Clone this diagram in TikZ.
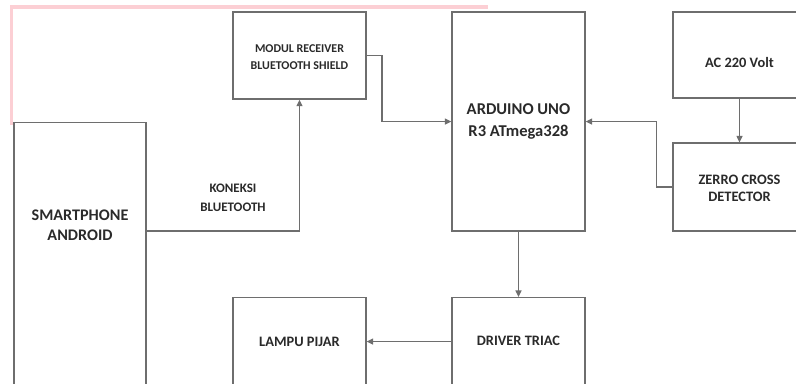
\documentclass[tikz,border=0pt]{standalone}
\usepackage{fontspec}
\setmainfont{Carlito}
\usepackage{xcolor}
\definecolor{boxline}{HTML}{6E6E6E}
\definecolor{boxtext}{HTML}{2A2A2A}
\definecolor{markpink}{HTML}{FCCFD4}
\usepackage{tikz}
\usetikzlibrary{positioning,arrows.meta,calc}
\tikzset{
  blk/.style  ={rectangle, draw=boxline, line width=0.75pt, fill=white,
                minimum width=26.6mm, minimum height=17.4mm, inner sep=0pt},
  txt/.style  ={text=boxtext, align=center, inner sep=1pt, font=\bfseries},
  tsm/.style  ={txt, font=\fontsize{6.8}{9.6}\selectfont\bfseries},
  tmd/.style  ={txt, font=\fontsize{8.2}{9.8}\selectfont\bfseries},
  tlg/.style  ={txt, font=\fontsize{9.4}{12.2}\selectfont\bfseries},
  arr/.style  ={-{Triangle[length=1.3mm, width=1.2mm]}, draw=boxline, line width=0.75pt},
  wire/.style ={draw=boxline, line width=0.75pt},
}

\begin{document}
\begin{tikzpicture}[x=0.02cm, y=-0.02cm]
  \useasboundingbox (0,0) rectangle (796,383);
  \clip (0,0) rectangle (796,383);
  \fill[white] (0,0) rectangle (796,383);
  % faint mark along the upper left
  \draw[markpink, line width=1.9pt] (11.5,125) -- (11.5,7) -- (488,7);

  \node[blk] (modul) at (299.5,55.5) {};
  \node[tsm] (modultxt) at (299.5,57) {MODUL RECEIVER\\BLUETOOTH SHIELD};
  \node[blk, minimum height=43.8mm] (ard) at (518.5,121.5) {};
  \node[tlg] (ardtxt) at (518.5,121.5) {ARDUINO UNO\\R3 ATmega328};
  \node[blk, minimum height=17.2mm] (ac) at (739.5,55) {};
  \node[tmd] (actxt) at (739.5,62) {AC 220 Volt};
  \node[blk, minimum height=17.6mm] (zcd) at (739.5,187) {};
  \node[tmd] (zcdtxt) at (739.5,188) {ZERRO CROSS\\DETECTOR};
  \node[blk, minimum width=26.4mm, minimum height=60mm, anchor=north] (phone) at (80,122) {};
  \node[tlg, font=\fontsize{9.2}{11.4}\selectfont\bfseries] (phonetxt) at (80,225) {SMARTPHONE\\ANDROID};
  \node[blk, minimum height=17.6mm] (lamp) at (299.5,341.5) {};
  \node[tmd] (lamptxt) at (299.5,342) {LAMPU PIJAR};
  \node[blk, minimum height=17.6mm] (drv) at (518.5,341.5) {};
  \node[tmd] (drvtxt) at (518.5,341) {DRIVER TRIAC};

  \coordinate (phoneout) at ($(phone.north east)+(0,109)$);
  \draw[arr] (phoneout) -| (modul.south);
  \node[tsm, font=\fontsize{7.4}{10.6}\selectfont\bfseries] (btlabel) at (233,198) {KONEKSI\\BLUETOOTH};

  \draw[arr] (modul.east) -- ++(15.5,0) |- (ard.west);
  \draw[arr] (zcd.west) -- ++(-16,0) |- (ard.east);
  \draw[arr] (ac.south) -- (zcd.north);
  \draw[arr] (ard.south) -- (drv.north);
  \draw[arr] (drv.west) -- (lamp.east);
\end{tikzpicture}
\end{document}
